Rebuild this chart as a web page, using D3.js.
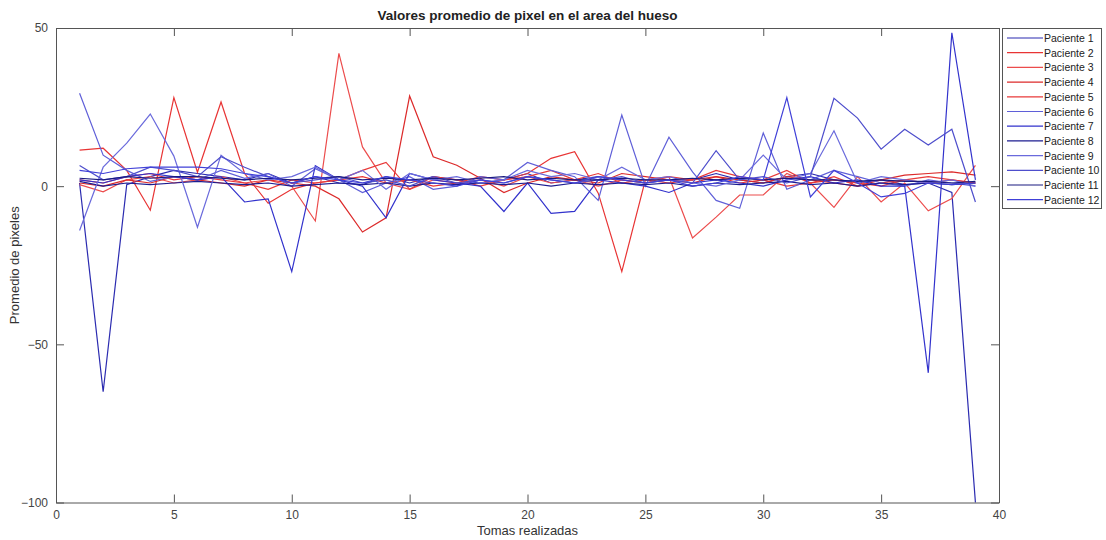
<!DOCTYPE html>
<html>
<head>
<meta charset="utf-8">
<script src="https://cdn.jsdelivr.net/npm/d3@7/dist/d3.min.js"></script>
<style>
  html, body { margin: 0; padding: 0; background: #fff; }
  svg { display: block; font-family: "Liberation Sans", Arial, Helvetica, sans-serif; }
</style>
</head>
<body>
<svg id="chart" width="1106" height="540"></svg>
<script>
// Tomas 1..39 for each patient
const tomas = d3.range(1, 40);

const paciente1  = [1, -65, 0.5, 3, 5, 4, 3, 2, 4, 1, 3, 1, 0.5, 3, 1, 3, 2, 1, 2, 4, 1, 2, 3, 2, 1, 2, 2, 4, 2, 1, 3, 4, 2, 1, 2, 0.5, 1, -2, -100];
const paciente2  = [11.4, 12, 5, -7.6, 28, 4.4, 26.6, 4, -5.4, -1, 1, 2, 3, 1, 2, 0, 1, 3, 2, 4, 8.8, 10.9, -2.2, -27, 2, 1, 2, 3, 1, 2, 0, 1, 2, 1, 0, 2, 1, 2, 1];
const paciente3  = [0.5, -1.8, 2, 3, 1, 2, 3, 1, 2, 0, -11, 42, 12.4, 1, -1, 2, 1, 2, 0, 3, 1, 2, 0, 2, 1, 3, -16.4, -9.8, -2.8, -2.8, 4, 1, -6.7, 3, -5, 1, -7.8, -3.9, 6.6];
const paciente4  = [1, 0, 2, 1, 3, 2, 1, 0, 2, 1, 0, -4, -14.5, -10, 28.5, 9.3, 6.6, 2.5, -2, 1, 3, 2, 1, 4, 3, 2, 1, 3, 2, 1, 3, 2, 1, 0, 2, 3.5, 4, 4.5, 3.5];
const paciente5  = [2, 1, 3, 4, 2, 3, 2, 1, -1, 2, 1, 2, 5, 7.5, -1, 3, 2, 0, 2, 3, 5, 2, 4, 1, 2, 3, 2, 5, 3, 2, 5, 1, 3, 0, 1, 2, 3, 2, 1];
const paciente6  = [29.4, 9.8, 5, 1.5, 3, 2, 5, 2.5, 4, 0, 5.5, 2, -2, 1, 3, -1, 0, 3, 2, 7.5, 5, 3, -4.5, 22.5, 0, 15.5, 4.5, -4.5, -7, 16.8, -1, 2, 5, 3, 1, 0, 2, 1, 0];
const paciente7  = [2, 1, 3, 4, 3, 2, 3, -5, -4, -27, 6.5, 2, 0, -10, 4, 2, 1, 0, -8, 1, -8.6, -8, 2, 1, 0, -2, 1, 2, 1, 0, 2, 3, 1, 2, 0, 0, -59, 48.5, 2];
const paciente8  = [1.5, 0, 1, 0.5, 1, 1.5, 1, 0.5, 1, 0, 0.5, 1, 0.5, 1, 0, 1, 0.5, 1, 0.5, 1, 0, 1, 0.5, 1, 0.5, 1, 0, 1, 0.5, 1, 1.5, 0.5, 1, 0, 1, 0.5, 1, 0.5, 1];
const paciente9  = [-14, 6, 13.6, 22.8, 9.5, -13, 9.8, 4, 2, 3, 6, 2, 5, -1, 4, 2, 3, 1, 2, 5, 3, 4, 2, 6, 2, 3, 1, 0, 2, 9.8, 2, 4, 17.5, 1, 3, 2, 1, 2, 0];
const paciente10 = [6.5, 2, 3, 6, 5, 3, 9.3, 6, 3, 1, 2, 3, 1, 2, 0, 3, 1, 2, 1, 3, 2, 1, 2, 3, 1, 2, 1, 11.2, 2, 3, 1, 3, 27.8, 21.5, 11.7, 18, 13, 18, -5];
const paciente11 = [2.5, 2, 3, 2.5, 3, 3, 2.5, 2, 2.5, 2, 2.5, 3, 2, 2.5, 2, 2.5, 2, 2.5, 3, 2, 2.5, 2, 2, 2.5, 2, 2, 2.5, 2, 2.5, 2, 2.5, 2, 2, 1.5, 2, 1.5, 1.5, 1, 1.5];
const paciente12 = [5, 4, 5.5, 6, 6, 6, 5.5, 4, 3, 1, 3, 2, 1, 3, 2, 1, 0, 2, 1, 3, 2, 1, 3, 2, 1, 2, 0, 1, 3, 2, 28, -3.4, 5, 1, -3.4, -2.3, 1, 0.5, 1];

const nombres = ["Paciente 1", "Paciente 2", "Paciente 3", "Paciente 4", "Paciente 5", "Paciente 6",
                 "Paciente 7", "Paciente 8", "Paciente 9", "Paciente 10", "Paciente 11", "Paciente 12"];
const valores = [paciente1, paciente2, paciente3, paciente4, paciente5, paciente6,
                 paciente7, paciente8, paciente9, paciente10, paciente11, paciente12];
const colores = ["#2b2bb0", "#e83434", "#ec4c4c", "#dc2a2a", "#e83a3a", "#5f5fd8",
                 "#3232cc", "#1c1c90", "#6a6adc", "#4e4ecc", "#1a1a80", "#4040d8"];

const xTicks = [0, 5, 10, 15, 20, 25, 30, 35, 40];
const yTicks = [-100, -50, 0, 50];

const svg = d3.select("#chart");
const plot = { left: 56, right: 999, top: 28, bottom: 502.5 };

const x = d3.scaleLinear().domain([0, 40]).range([plot.left, plot.right]);
const y = d3.scaleLinear().domain([-100, 50]).range([plot.bottom, plot.top]);

// Series lines
const line = d3.line().x((d, i) => x(tomas[i])).y(d => y(d));
svg.append("g")
  .selectAll("path").data(valores).join("path")
  .attr("d", d => line(d))
  .attr("fill", "none")
  .attr("stroke", (d, i) => colores[i])
  .attr("stroke-width", 1.2)
  .attr("stroke-linejoin", "miter");

// Axes (ticks pointing inward, box around the plot)
const axisColor = "#555";
const tickLen = 8;
const gx = svg.append("g").attr("transform", `translate(0,${plot.bottom})`)
  .call(d3.axisBottom(x).tickValues(xTicks).tickSizeInner(-tickLen).tickSizeOuter(0).tickPadding(8));
const gxTop = svg.append("g").attr("transform", `translate(0,${plot.top})`)
  .call(d3.axisTop(x).tickValues(xTicks).tickSizeInner(-tickLen).tickSizeOuter(0).tickFormat(""));
const gy = svg.append("g").attr("transform", `translate(${plot.left},0)`)
  .call(d3.axisLeft(y).tickValues(yTicks).tickSizeInner(-tickLen).tickSizeOuter(0).tickPadding(8));
const gyR = svg.append("g").attr("transform", `translate(${plot.right},0)`)
  .call(d3.axisRight(y).tickValues(yTicks).tickSizeInner(-tickLen).tickSizeOuter(0).tickFormat(""));

[gx, gxTop, gy, gyR].forEach(g => {
  g.select(".domain").attr("stroke", axisColor);
  g.selectAll(".tick line").attr("stroke", axisColor);
  g.selectAll(".tick text").attr("fill", "#444").attr("font-size", 12)
    .attr("font-family", "'Liberation Sans', Arial, sans-serif");
});

// Title and axis labels
svg.append("text")
  .attr("x", (plot.left + plot.right) / 2).attr("y", 20)
  .attr("text-anchor", "middle").attr("font-size", 13.5).attr("font-weight", "bold")
  .attr("fill", "#222")
  .text("Valores promedio de pixel en el area del hueso");

svg.append("text")
  .attr("x", (plot.left + plot.right) / 2).attr("y", 535)
  .attr("text-anchor", "middle").attr("font-size", 13).attr("fill", "#333")
  .text("Tomas realizadas");

svg.append("text")
  .attr("transform", `translate(19,${(plot.top + plot.bottom) / 2}) rotate(-90)`)
  .attr("text-anchor", "middle").attr("font-size", 13).attr("fill", "#333")
  .text("Promedio de pixeles");

// Legend
const leg = svg.append("g").attr("transform", "translate(1002,28)");
leg.append("rect").attr("x", 0.5).attr("y", 0.5).attr("width", 99).attr("height", 180)
  .attr("fill", "#fff").attr("stroke", axisColor);
const rowY = i => 10 + i * 14.7;
leg.selectAll("line.item").data(nombres).join("line").attr("class", "item")
  .attr("x1", 5).attr("x2", 41)
  .attr("y1", (d, i) => rowY(i)).attr("y2", (d, i) => rowY(i))
  .attr("stroke", (d, i) => colores[i]).attr("stroke-width", 1.2);
leg.selectAll("text.item").data(nombres).join("text").attr("class", "item")
  .attr("x", 42).attr("y", (d, i) => rowY(i) + 4)
  .attr("font-size", 10.5).attr("fill", "#222")
  .text(d => d);
</script>
</body>
</html>
